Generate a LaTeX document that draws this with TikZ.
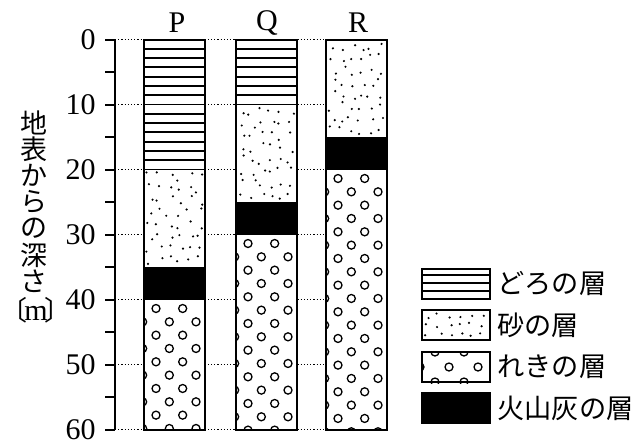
\documentclass[tikz,border=0pt]{standalone}
\usepackage{fontspec}
\setmainfont{Liberation Serif}
\newfontfamily\jp{Noto Sans CJK JP}
\usetikzlibrary{positioning}

\tikzset{
  column/.style={draw, line width=1pt, minimum width=30.5pt, minimum height=195pt, inner sep=0pt},
  keybox/.style={draw, line width=1pt, minimum width=34pt, minimum height=15pt, inner sep=0pt},
  pebble/.style={line width=0.65pt},
  grid line/.style={densely dotted, line width=0.6pt},
  num/.style={anchor=east, inner sep=0pt, font=\fontsize{15}{15}\selectfont},
  colname/.style={inner sep=0pt, font=\fontsize{15}{15}\selectfont},
  keytext/.style={anchor=west, inner sep=0pt, font=\jp\fontsize{13.6}{13.6}\selectfont},
  titlechar/.style={inner sep=0pt, font=\jp\fontsize{13.5}{13.5}\selectfont}
}

\begin{document}
\begin{tikzpicture}[x=0.5pt, y=-0.5pt]
  \useasboundingbox (0,0) rectangle (641,445);
  \pgfmathsetseed{5}

  % Depth axis
  \draw[line width=1pt] (115,39.5) -- (115,429.5);
  \foreach \d in {0,5,...,60}
    \draw[line width=1pt] (105,{39.5+6.5*\d}) -- (115,{39.5+6.5*\d});
  \foreach \d in {0,10,...,60} {
    \draw[grid line] (115,{39.5+6.5*\d}) -- (387,{39.5+6.5*\d});
    \node[num] (n\d) at (96,{39.5+6.5*\d}) {\d};
  }

  % Axis title, one character per line
  \foreach \c [count=\i] in {地,表,か,ら,の,深,さ}
    \node[titlechar] (t\i) at (34,{96.5+26.4*\i}) {\c};
  \node[inner sep=0pt] (unit) at (36,310)
    {\jp\fontsize{13.5}{13.5}\selectfont\kern-0.6em〔\kern-1.5pt{\rmfamily\fontsize{15}{15}\selectfont m}\kern-1.5pt〕\kern-0.6em};

  % Mud
  \foreach \xa/\da/\db in {144/0/20, 236/0/10} {
    \pgfmathsetmacro\ya{39.5+6.5*\da}
    \pgfmathsetmacro\yb{39.5+6.5*\db}
    \fill[white] (\xa,\ya) rectangle ({\xa+61},\yb);
    \begin{scope}
      \clip (\xa,\ya) rectangle ({\xa+61},\yb);
      \foreach \k in {1,...,14}
        \draw[line width=0.9pt] (\xa,{\ya+\k*65/7}) -- ++(61,0);
    \end{scope}
  }

  % Sand: jittered grid of dots
  \foreach \xa/\da/\db in {144/20/35, 236/10/25, 326/0/15} {
    \pgfmathsetmacro\ya{39.5+6.5*\da}
    \fill[white] (\xa,\ya) rectangle ({\xa+61},{39.5+6.5*\db});
    \foreach \r in {0,...,7}
      \foreach \c in {0,...,5}
        \fill ({\xa+6+\c*9.8+4*rand},{\ya+7+\r*12+4.5*rand}) circle[radius=0.6pt];
  }

  % Volcanic ash
  \foreach \xa/\da/\db in {144/35/40, 236/25/30, 326/15/20}
    \fill (\xa,{39.5+6.5*\da}) rectangle ({\xa+61},{39.5+6.5*\db});

  % Gravel
  \foreach \xa/\da/\db in {144/40/60, 236/30/60, 326/20/60} {
    \pgfmathsetmacro\ya{39.5+6.5*\da}
    \pgfmathsetmacro\yb{39.5+6.5*\db}
    \fill[white] (\xa,\ya) rectangle ({\xa+61},\yb);
    \begin{scope}
      \clip (\xa,\ya) rectangle ({\xa+61},\yb);
      \foreach \j in {0,...,20} {
        \pgfmathsetmacro\yc{\ya+9+\j*13.33}
        \pgfmathsetmacro\xo{\xa+12-mod(\j,2)*13.33}
        \foreach \i in {0,1,2}
          \draw[pebble] ({\xo+\i*26.67},\yc) circle[radius=2pt];
      }
    \end{scope}
  }

  % Columns
  \node[column] (colP) at (174.5,234.5) {};
  \node[column] (colQ) at (266.5,234.5) {};
  \node[column] (colR) at (356.5,234.5) {};
  \node[colname] (labP) at (177,23) {P};
  \node[colname] (labQ) at (267,23) {Q};
  \node[colname] (labR) at (358,23) {R};

  % Legend
  \node[keybox] (keyMud) at (456,283.5) {};
  \foreach \k in {1,2,3}
    \draw[line width=0.9pt] ([yshift=-\k*3.875pt]keyMud.north west) -- ([yshift=-\k*3.875pt]keyMud.north east);
  \node[keybox] (keySand) at (456,325) {};
  \foreach \r in {0,1,2}
    \foreach \c in {0,...,5}
      \fill ({428+\c*11+3*rand},{316+\r*9+2.5*rand}) circle[radius=0.6pt];
  \node[keybox] (keyGravel) at (456,367) {};
  \begin{scope}
    \clip (keyGravel.south west) rectangle (keyGravel.north east);
    \foreach \x in {435,464} {
      \draw[pebble] (\x,352) circle[radius=2pt];
      \draw[pebble] (\x,382) circle[radius=2pt];
    }
    \foreach \x in {420,449,478}
      \draw[pebble] (\x,367) circle[radius=2pt];
  \end{scope}
  \node[keybox, fill=black] (keyAsh) at (456,408) {};

  \node[keytext, right=3pt of keyMud] (txtMud) {どろの層};
  \node[keytext, right=3pt of keySand] (txtSand) {砂の層};
  \node[keytext, right=3pt of keyGravel] (txtGravel) {れきの層};
  \node[keytext, right=3pt of keyAsh] (txtAsh) {火山灰の層};
\end{tikzpicture}
\end{document}
